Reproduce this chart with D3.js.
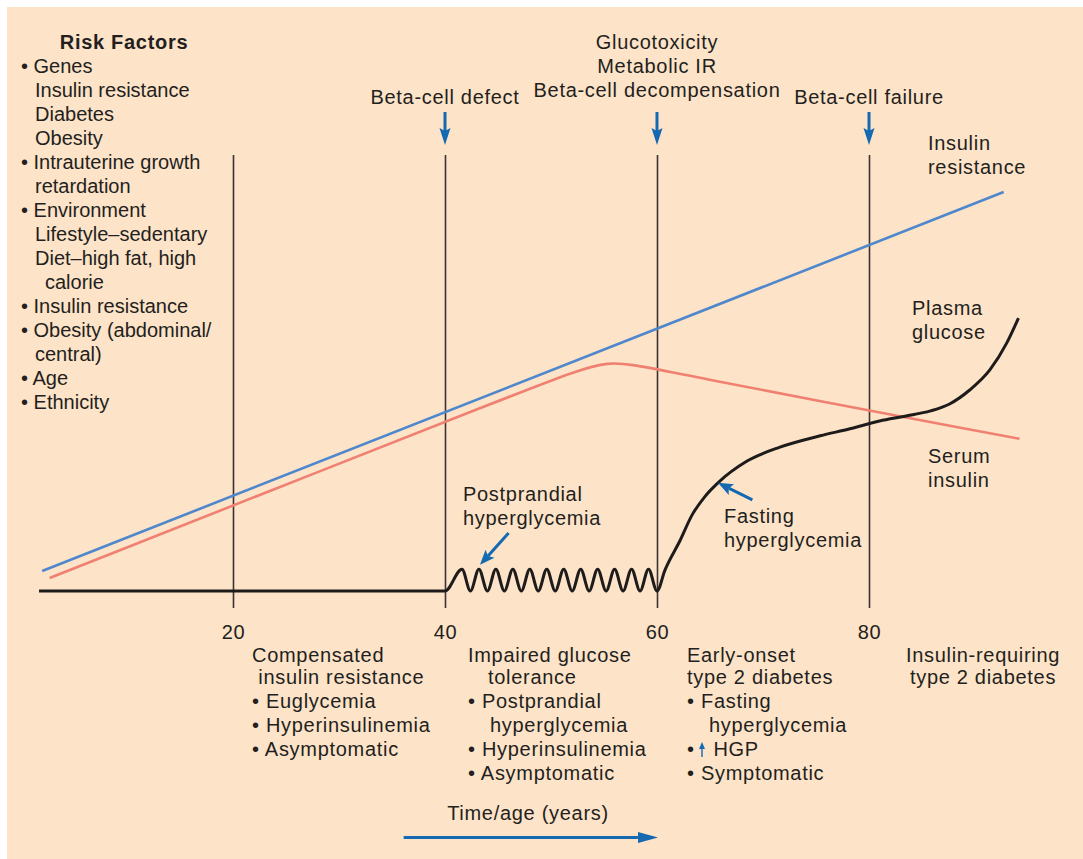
<!DOCTYPE html>
<html>
<head>
<meta charset="utf-8">
<script src="https://cdn.jsdelivr.net/npm/d3@7"></script>
<style>
  body { margin: 0; background: #fff; }
  text { font-family: "Liberation Sans", Arial, Helvetica, sans-serif; fill: #231f20; font-size: 20px; white-space: pre; letter-spacing: 0.7px; }
  text.risk { letter-spacing: 0; }
</style>
</head>
<body>
<svg id="chart" width="1083" height="859"></svg>
<script>
// ---- data (years on x, arbitrary level 0-100 on y) ----
var markerYears = [20, 40, 60, 80];
var tickLabels = ["20", "40", "60", "80"];

var eventYears = [40, 60, 80];
var eventLabels = [["Beta-cell defect"],
                   ["Glucotoxicity", "Metabolic IR", "Beta-cell decompensation"],
                   ["Beta-cell failure"]];

var resistYears = [2, 92.7];
var resistLevels = [4.6, 91.5];

var insulinYears = [2.7, 50, 55.5, 60, 94.2];
var insulinLevels = [3.0, 48.4, 53.4, 50.6, 34.9];

var glucoseYears = [1.7, 40,
  41.6, 42.4, 43.2, 44.0, 44.8, 45.6, 46.4, 47.2, 48.0, 48.8, 49.6, 50.4,
  51.2, 52.0, 52.8, 53.6, 54.4, 55.2, 56.0, 56.8, 57.6, 58.4, 59.2, 60.0,
  60.75, 62.2, 63.3, 64.5, 65.75, 68.5, 71.6, 75.4, 78.2, 81.0, 83.4, 85.8,
  87.6, 89.5, 91.4, 93.0, 94.1];
var glucoseLevels = [0, 0,
  5, 0, 5, 0, 5, 0, 5, 0, 5, 0, 5, 0,
  5, 0, 5, 0, 5, 0, 5, 0, 5, 0, 5, 0,
  4.8, 11.7, 17.4, 21.6, 24.8, 29.8, 33.0, 35.6, 37.2, 39.0, 40.1, 41.3,
  42.9, 46.1, 50.7, 56.9, 62.6];

var riskTitle = "Risk Factors";
var riskLines = ["• Genes", "Insulin resistance", "Diabetes", "Obesity",
  "• Intrauterine growth", "retardation", "• Environment", "Lifestyle–sedentary",
  "Diet–high fat, high", "calorie", "• Insulin resistance", "• Obesity (abdominal/",
  "central)", "• Age", "• Ethnicity"];
var riskIndent = [0, 14, 14, 14, 0, 14, 0, 14, 14, 24, 0, 0, 14, 0, 0];

var stageLines = [
  ["Compensated", " insulin resistance", "• Euglycemia", "• Hyperinsulinemia", "• Asymptomatic"],
  ["Impaired glucose", "tolerance", "• Postprandial", "hyperglycemia", "• Hyperinsulinemia", "• Asymptomatic"],
  ["Early-onset", "type 2 diabetes", "• Fasting", "hyperglycemia", "•   HGP", "• Symptomatic"],
  ["Insulin-requiring", "type 2 diabetes"]
];
var stageIndent = [
  [0, 0, 0, 0, 0],
  [0, 20, 0, 22, 0, 0],
  [0, 0, 0, 22, 0, 0],
  [0, 0]
];

var curveLabels = [["Insulin", "resistance"], ["Plasma", "glucose"], ["Serum", "insulin"],
                   ["Postprandial", "hyperglycemia"], ["Fasting", "hyperglycemia"]];
var timeLabel = "Time/age (years)";

// ---- layout ----
var W = 1083, H = 859;
var svg = d3.select("#chart");
var x = d3.scaleLinear().domain([0, 100]).range([21, 1081]);
var y = d3.scaleLinear().domain([0, 100]).range([591, 155]);
var blue = "#1469b0";

svg.append("rect").attr("x", 7).attr("y", 7).attr("width", W - 7).attr("height", H - 7)
  .attr("fill", "#fde3c8");

// vertical stage lines + tick labels via axis
var axis = d3.axisBottom(x).tickValues(markerYears)
  .tickFormat(function(d, i){ return tickLabels[i]; })
  .tickSizeInner(-(608 - 155)).tickSizeOuter(0).tickPadding(17);
var gAxis = svg.append("g").attr("transform", "translate(0,608)").call(axis);
gAxis.select(".domain").remove();
gAxis.selectAll(".tick line").attr("stroke", "#3b3330").attr("stroke-width", 1.6);
gAxis.selectAll(".tick text").style("font-size", "20px").attr("fill", "#231f20")
  .style("font-family", "\"Liberation Sans\", Arial, sans-serif");

// curves
var lineGen = d3.line().x(function(d){ return x(d[0]); }).y(function(d){ return y(d[1]); });

svg.append("path").datum(d3.zip(resistYears, resistLevels))
  .attr("d", lineGen).attr("fill", "none").attr("stroke", "#4f87cc").attr("stroke-width", 2.6);

svg.append("path").datum(d3.zip(insulinYears, insulinLevels))
  .attr("d", lineGen.curve(d3.curveBasis)).attr("fill", "none")
  .attr("stroke", "#ef8072").attr("stroke-width", 2.6);

svg.append("path").datum(d3.zip(glucoseYears, glucoseLevels))
  .attr("d", lineGen.curve(d3.curveMonotoneX)).attr("fill", "none")
  .attr("stroke", "#1e1b1b").attr("stroke-width", 3).attr("stroke-linejoin", "round");

// event arrows + labels
eventYears.forEach(function(yr, i){
  var cx = x(yr);
  svg.append("line").attr("x1", cx).attr("x2", cx).attr("y1", 112).attr("y2", 132)
    .attr("stroke", blue).attr("stroke-width", 3);
  svg.append("path").attr("d", "M" + (cx - 5.5) + ",128L" + cx + ",145L" + (cx + 5.5) + ",128L" + cx + ",131Z")
    .attr("fill", blue);
  var lines = eventLabels[i];
  lines.forEach(function(t, j){
    svg.append("text").attr("x", cx).attr("y", 104 - (lines.length - 1 - j) * 24 - (lines.length > 1 ? 7 : 0))
      .attr("text-anchor", "middle").text(t);
  });
});

// diagonal arrows
function arrow(x1, y1, x2, y2, w){
  var a = Math.atan2(y2 - y1, x2 - x1), L = 15, hw = 6;
  var bx = x2 - L * Math.cos(a), by = y2 - L * Math.sin(a);
  var nx = -Math.sin(a), ny = Math.cos(a);
  svg.append("line").attr("x1", x1).attr("y1", y1)
    .attr("x2", x2 - (L - 3) * Math.cos(a)).attr("y2", y2 - (L - 3) * Math.sin(a))
    .attr("stroke", blue).attr("stroke-width", w);
  svg.append("path").attr("d", "M" + x2 + "," + y2 + "L" + (bx + nx * hw) + "," + (by + ny * hw) +
    "L" + (bx + 3 * Math.cos(a)) + "," + (by + 3 * Math.sin(a)) +
    "L" + (bx - nx * hw) + "," + (by - ny * hw) + "Z").attr("fill", blue);
}
arrow(x(46.0), y(13.3), x(43.3), y(6.0), 3);
arrow(x(69.0), y(20.9), x(65.75), y(24.8), 3);

// curve labels
var labelPos = [[928, 150], [912, 315], [928, 463], [463, 501], [724, 523]];
curveLabels.forEach(function(ls, i){
  ls.forEach(function(t, j){
    svg.append("text").attr("x", labelPos[i][0]).attr("y", labelPos[i][1] + j * 24).text(t);
  });
});

// risk factors
svg.append("text").attr("x", 124).attr("y", 49).attr("text-anchor", "middle")
  .style("font-weight", "bold").text(riskTitle);
riskLines.forEach(function(t, i){
  svg.append("text").attr("class", "risk").attr("x", 21 + riskIndent[i]).attr("y", 73 + i * 24).text(t);
});

// stage descriptions
var stageX = [252, 468, 687, 983];
stageLines.forEach(function(ls, k){
  ls.forEach(function(t, j){
    var tx = svg.append("text").attr("y", 662 + j * 24 - (j > 0 ? 2 : 0)).text(t);
    if (k === 3) tx.attr("x", stageX[k]).attr("text-anchor", "middle");
    else tx.attr("x", stageX[k] + stageIndent[k][j]);
  });
});
// small up arrow in "↑ HGP"
var hx = 702;
svg.append("line").attr("x1", hx).attr("x2", hx).attr("y1", 757).attr("y2", 747)
  .attr("stroke", blue).attr("stroke-width", 1.4);
svg.append("path").attr("d", "M" + (hx - 3) + ",749L" + hx + ",742L" + (hx + 3) + ",749Z").attr("fill", blue);

// time axis arrow
svg.append("text").attr("x", 528).attr("y", 820).attr("text-anchor", "middle").text(timeLabel);
svg.append("line").attr("x1", x(36.1)).attr("x2", x(58.2)).attr("y1", 837.5).attr("y2", 837.5)
  .attr("stroke", blue).attr("stroke-width", 3);
svg.append("path").attr("d", "M" + (x(60) + 1) + ",837.5L" + (x(60) - 19) + ",832L" + (x(60) - 19) + ",843Z")
  .attr("fill", blue);
</script>
</body>
</html>
